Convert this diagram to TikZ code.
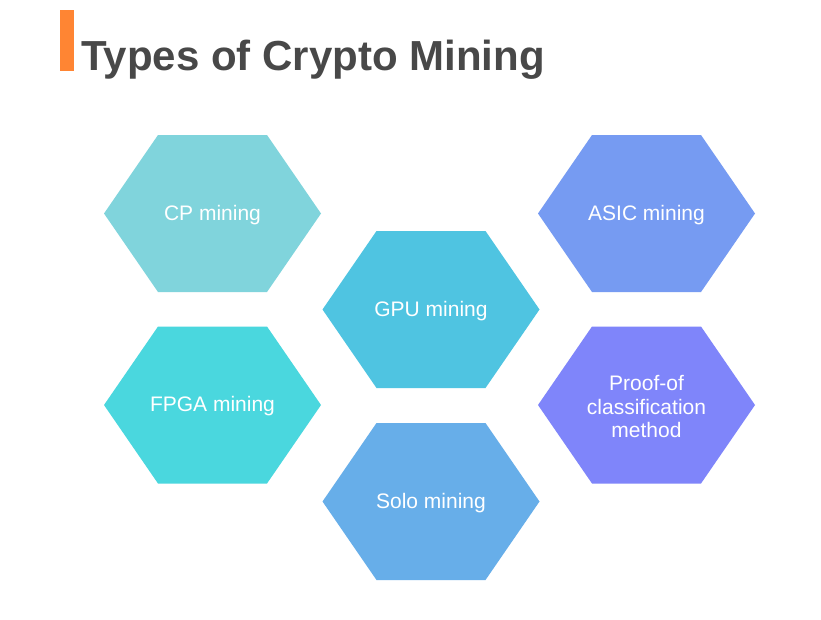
\documentclass[tikz,border=0pt]{standalone}
\usepackage{fontspec}
\setmainfont{Liberation Sans}
\usepackage{tikz}
\usepackage{xcolor}

\definecolor{titlegray}{HTML}{484848}
\definecolor{barorange}{HTML}{FF8533}
\definecolor{cpcol}{HTML}{80D4DC}
\definecolor{gpucol}{HTML}{4FC4E1}
\definecolor{asiccol}{HTML}{769BF2}
\definecolor{fpgacol}{HTML}{4AD7DE}
\definecolor{proofcol}{HTML}{7F85FA}
\definecolor{solocol}{HTML}{67AEE9}

\tikzset{
    hexlabel/.style={text=white,align=center,font=\fontsize{21}{23.5}\selectfont,inner sep=0pt}
}

\begin{document}
\begin{tikzpicture}[x=1pt,y=-1pt]
    \useasboundingbox[fill=white] (0,0) rectangle (821,619);

    % title
    \fill[barorange] (60,10) rectangle (74,71);
    \node[anchor=base west,inner sep=0pt,text=titlegray,font=\fontsize{42}{50}\selectfont\bfseries] (title) at (81,70) {Types of Crypto Mining};

    % hexagons
    \foreach \cx/\cy/\col/\nm/\txt in {212.5/213.5/cpcol/cp/{CP mining},
                                       431/309.5/gpucol/gpu/{GPU mining},
                                       646.5/213.5/asiccol/asic/{ASIC mining},
                                       212.5/405/fpgacol/fpga/{FPGA mining},
                                       646.5/405/proofcol/proof/{Proof-of\\classification\\method},
                                       431/501.5/solocol/solo/{Solo mining}}
    {
        \fill[\col] (\cx,\cy) ++(-108.5,0) -- ++(54,-78.5) -- ++(109,0) -- ++(54,78.5) -- ++(-54,78.5) -- ++(-109,0) -- cycle;
        \node[hexlabel] (\nm) at (\cx,\cy+1.5) {\txt};
    }
\end{tikzpicture}
\end{document}
